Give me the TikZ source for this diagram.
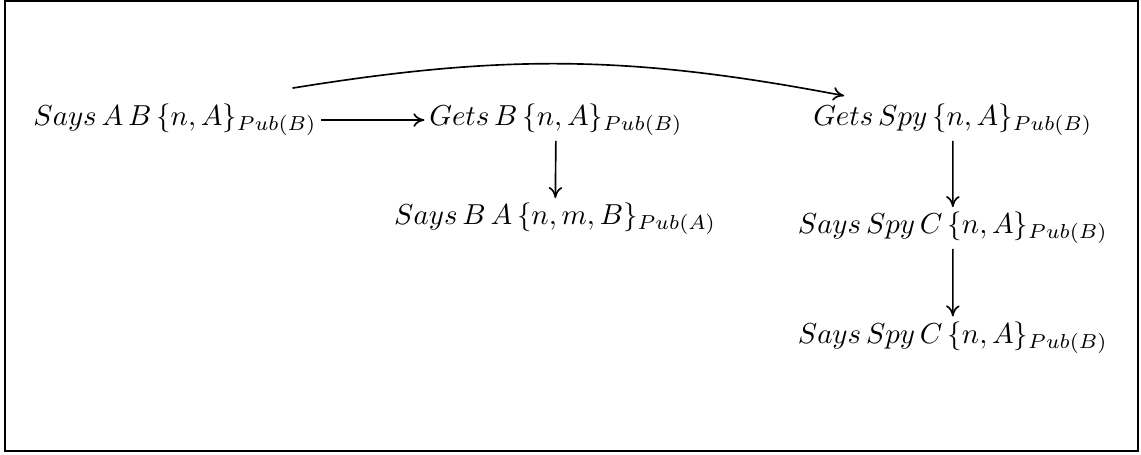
\documentclass[tikz,border=0pt]{standalone}
\usepackage{amsmath, amssymb}
\usepackage{tikz}
\usetikzlibrary{arrows.meta}

\begin{document}
\begin{tikzpicture}[msg/.style={inner sep=1.5pt, scale=0.965}, flow/.style={-{To[length=1.3mm, width=1.6mm]}, line width=0.55pt}]
\useasboundingbox (0,0) rectangle (13.4,5.332);
\draw[line width=0.9pt] (0.059,0.035) rectangle (13.365,5.32);
% honest run on the left, spy branch on the right
\node[msg] (saysAB) at (2.055,3.922) {$Says\,A\,B\,\{n,A\}_{Pub(B)}$};
\node[msg] (getsB) at (6.53,3.922) {$Gets\,B\,\{n,A\}_{Pub(B)}$};
\node[msg] (getsSpy) at (11.19,3.922) {$Gets\,Spy\,\{n,A\}_{Pub(B)}$};
\node[msg] (saysBA) at (6.52,2.76) {$Says\,B\,A\,\{n,m,B\}_{Pub(A)}$};
\node[msg] (saysSpy1) at (11.19,2.654) {$Says\,Spy\,C\,\{n,A\}_{Pub(B)}$};
\node[msg] (saysSpy2) at (11.19,1.37) {$Says\,Spy\,C\,\{n,A\}_{Pub(B)}$};
\draw[flow] (saysAB) -- (getsB);
\draw[flow] (getsB) -- (saysBA);
\draw[flow] (getsSpy) -- (saysSpy1);
\draw[flow] (saysSpy1) -- (saysSpy2);
% the spy overhears the first message
\draw[flow] ([shift={(-0.34,0.13)}]saysAB.north east) to[bend left=10] ([shift={(0.42,0.04)}]getsSpy.north west);
\end{tikzpicture}
\end{document}
